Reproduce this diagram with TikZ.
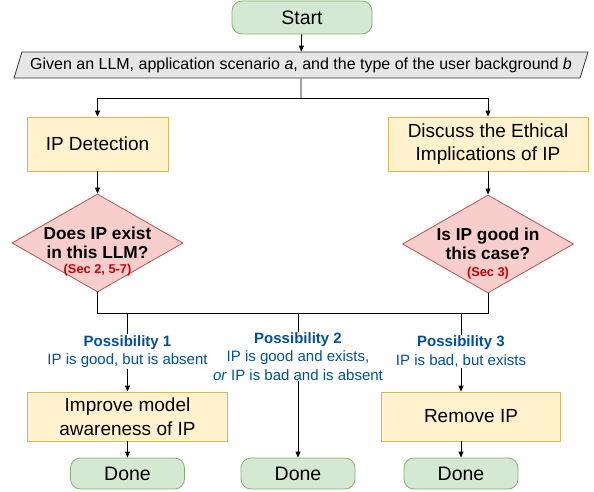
\documentclass[tikz,border=0pt]{standalone}
\usepackage{fontspec}
\setmainfont{Liberation Sans}
\usetikzlibrary{arrows.meta,shapes.geometric}
\definecolor{termfill}{HTML}{D5E8D4}
\definecolor{termline}{HTML}{82B366}
\definecolor{procfill}{HTML}{FFF2CC}
\definecolor{procline}{HTML}{D6B656}
\definecolor{decfill}{HTML}{F8CECC}
\definecolor{decline}{HTML}{B85450}
\definecolor{inputfill}{HTML}{E6E6E6}
\definecolor{possblue}{HTML}{0050A0}
\definecolor{secred}{HTML}{CC0000}
\begin{document}
\begin{tikzpicture}[x=1pt,y=-1pt,line width=0.8pt,
 term/.style={draw=termline,fill=termfill,rounded corners=10pt,minimum width=114pt,minimum height=31pt,inner sep=0pt,font=\fontsize{19.5}{23}\selectfont},
 proc/.style={draw=procline,fill=procfill,minimum height=49pt,inner sep=0pt,align=center,font=\fontsize{19}{23.5}\selectfont},
 decide/.style={diamond,draw=decline,fill=decfill,minimum width=171pt,minimum height=98pt,inner sep=0pt},
 qtext/.style={align=center,font=\bfseries\fontsize{17.3}{19.5}\selectfont},
 sectext/.style={text=secred,font=\bfseries\fontsize{12.8}{14}\selectfont},
 given/.style={trapezium,trapezium left angle=62,trapezium right angle=118,trapezium stretches body,draw=black!80,fill=inputfill,minimum width=574pt,minimum height=26pt,inner sep=0pt,font=\fontsize{16}{18}\selectfont},
 poss/.style={fill=white,text=possblue,align=center,inner sep=1pt,font=\fontsize{15}{18.3}\selectfont},
 arr/.style={-{Triangle[length=6pt,width=5pt]}}]
 \useasboundingbox (0,0) rectangle (594,492);
 % top part
 \node[term,minimum width=140pt,minimum height=33pt] (start) at (302,17.5) {Start};
 \node[given] (input) at (301,65) {Given an LLM, application scenario \textit{a}, and the type of the user background \textit{b}};
 \node[proc,minimum width=141pt,minimum height=54pt] (detect) at (97.5,144) {IP Detection};
 \node[proc,minimum width=200pt,minimum height=54pt] (ethics) at (488,144) {Discuss the Ethical\\Implications of IP};
 \node[decide,label={[qtext]center:Does IP exist\\in this LLM?},label={[sectext,yshift=-27pt]center:(Sec 2, 5-7)}] (exist) at (97.5,243) {};
 \node[decide,label={[qtext]center:Is IP good in\\this case?},label={[sectext,yshift=-29pt]center:(Sec 3)}] (good) at (488,244) {};
 % bottom part
 \node[proc,minimum width=200pt] (improve) at (127.5,416.5) {Improve model\\awareness of IP};
 \node[proc,minimum width=179pt] (remove) at (471,416.5) {Remove IP};
 \node[term] (done1) at (127.5,473.5) {Done};
 \node[term] (done2) at (298,473.5) {Done};
 \node[term] (done3) at (461,473.5) {Done};
 \coordinate (split) at (301,98);
 \coordinate (merge) at (298,313);
 \draw[arr] (start) -- (input);
 \draw (input.south) -- (split);
 \draw[arr] (split) -| (detect.north); \draw[arr] (split) -| (ethics.north);
 \draw[arr] (detect) -- (exist); \draw[arr] (ethics) -- (good);
 \draw (exist.south) |- (merge); \draw (good.south) |- (merge);
 \draw[arr] (improve.north |- merge) -- node[poss,pos=0.49]{\textbf{Possibility 1}\\IP is good, but is absent} (improve.north);
 \draw[arr] (merge) -- node[poss,pos=0.3]{\textbf{Possibility 2}\\IP is good and exists,\\\textit{or} IP is bad and is absent} (done2.north);
 \draw[arr] (done3.north |- merge) -- node[poss,pos=0.49]{\textbf{Possibility 3}\\IP is bad, but exists} (remove.north -| done3.north);
 \draw[arr] (improve) -- (done1);
 \draw[arr] (remove.south -| done3.north) -- (done3);
\end{tikzpicture}
\end{document}
